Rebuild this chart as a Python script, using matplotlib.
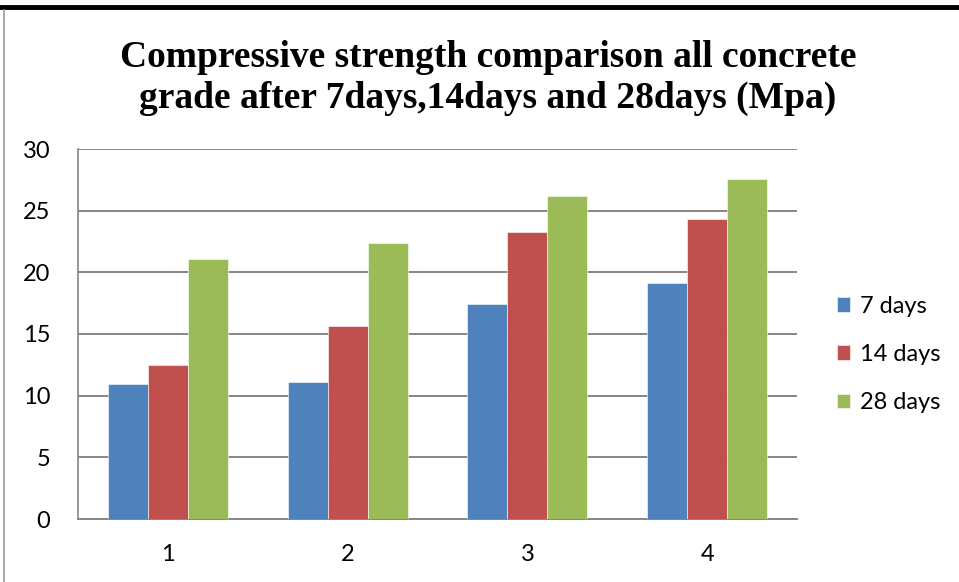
import matplotlib
matplotlib.use("Agg")
import matplotlib.pyplot as plt
import numpy as np
from matplotlib.lines import Line2D

categories = ["1", "2", "3", "4"]
series_names = ["7 days", "14 days", "28 days"]
days7 = [10.95, 11.1, 17.4, 19.1]
days14 = [12.5, 15.65, 23.3, 24.3]
days28 = [21.1, 22.4, 26.2, 27.6]
colors = ["#4f81bd", "#c0504d", "#9bbb59"]
yticks = [0, 5, 10, 15, 20, 25, 30]

W, H = 959, 582
fig = plt.figure(figsize=(W / 100, H / 100), dpi=100)

def fx(px):
    return px / W

def fy(py):
    return 1 - py / H

ax = fig.add_axes([fx(78), fy(519), fx(797) - fx(78), fy(149) - fy(519)])

x = np.arange(len(categories))
bw = 40 / 179.75
for i, (vals, name) in enumerate(zip([days7, days14, days28], series_names)):
    ax.bar(x + (i - 1) * bw, vals, width=bw, color=colors[i], label=name,
           edgecolor="white", linewidth=0.4, zorder=3)

ax.set_xlim(-0.5, len(categories) - 0.5)
ax.set_ylim(0, 30)
ax.set_yticks(yticks)
ax.set_xticks(x)
ax.set_xticklabels(categories)
ax.yaxis.grid(True, color="#868686", linewidth=1.4, zorder=0)
ax.tick_params(axis="both", length=0, labelsize=17, colors="#000000")
ax.tick_params(axis="y", pad=20)
ax.tick_params(axis="x", pad=18)
for lab in ax.get_xticklabels() + ax.get_yticklabels():
    lab.set_fontfamily("Lato")
for s in ["top", "right"]:
    ax.spines[s].set_visible(False)
ax.spines["left"].set_color("#868686")
ax.spines["left"].set_linewidth(1.2)
ax.spines["bottom"].set_color("#868686")
ax.spines["bottom"].set_linewidth(1.4)

fig.text(fx(488), fy(78),
         "Compressive strength comparison all concrete\ngrade after 7days,14days and 28days (Mpa)",
         ha="center", va="center", fontsize=27, fontweight="bold",
         family="Liberation Serif", linespacing=1.22)

leg = fig.legend(loc="upper left", bbox_to_anchor=(fx(825), fy(284)),
                 frameon=False, prop={"family": "Lato", "size": 17},
                 handlelength=0.55, handleheight=0.55, handletextpad=0.45,
                 labelspacing=1.15, borderpad=0)

# page frame lines
fig.add_artist(Line2D([0, 1], [fy(7), fy(7)], color="black", linewidth=3.5,
                      transform=fig.transFigure))
fig.add_artist(Line2D([fx(4), fx(4)], [fy(10), 0], color="#9a9a9a", linewidth=1.2,
                      transform=fig.transFigure))

fig.savefig("out.png", dpi=100)
